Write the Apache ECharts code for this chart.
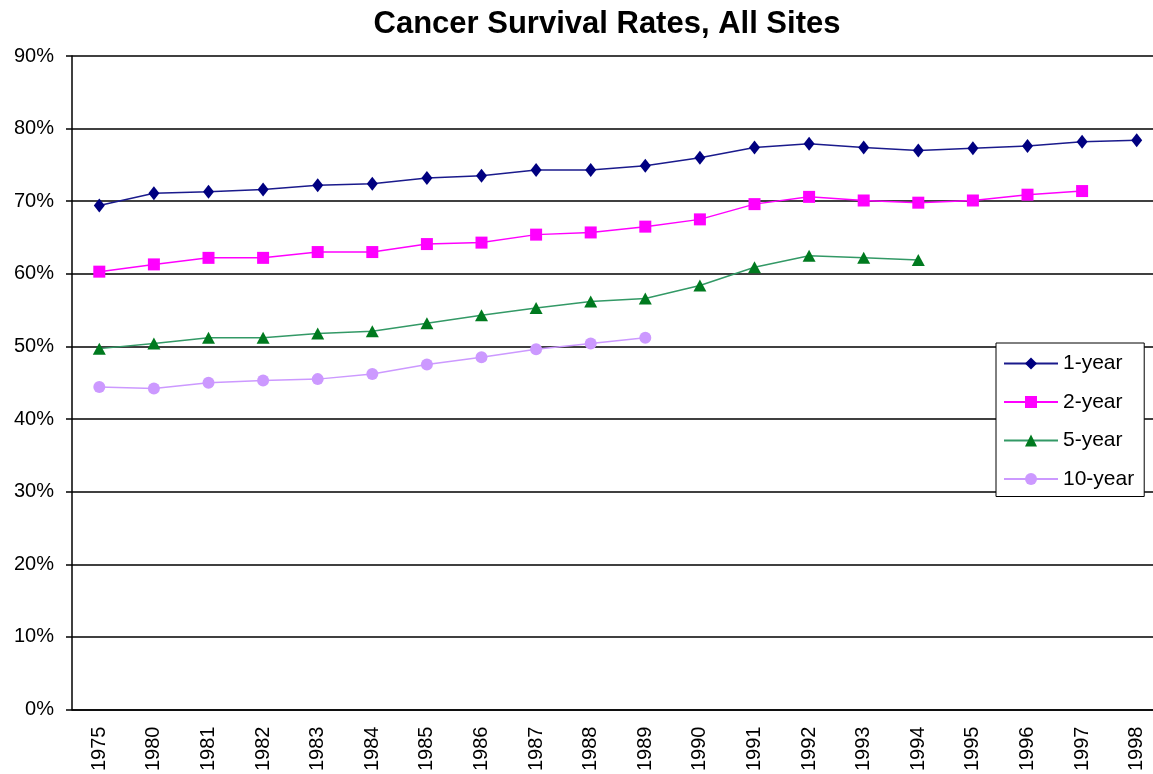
<!DOCTYPE html>
<html>
<head>
<meta charset="utf-8">
<script src="https://cdn.jsdelivr.net/npm/echarts@6/dist/echarts.min.js"></script>
<style>
  html, body { margin: 0; padding: 0; background: #fff; overflow: hidden; }
  #chart { width: 1164px; height: 774px; }
</style>
</head>
<body>
<div id="chart"></div>
<script>
var years = ['1975', '1980', '1981', '1982', '1983', '1984', '1985', '1986', '1987', '1988',
    '1989', '1990', '1991', '1992', '1993', '1994', '1995', '1996', '1997', '1998'];

// survival rates in percent
var oneYear = [69.4, 71.1, 71.3, 71.6, 72.2, 72.4, 73.2, 73.5, 74.3, 74.3,
    74.9, 76.0, 77.4, 77.9, 77.4, 77.0, 77.3, 77.6, 78.2, 78.4];
var twoYear = [60.3, 61.3, 62.2, 62.2, 63.0, 63.0, 64.1, 64.3, 65.4, 65.7,
    66.5, 67.5, 69.6, 70.6, 70.1, 69.8, 70.1, 70.9, 71.4];
var fiveYear = [49.7, 50.4, 51.2, 51.2, 51.8, 52.1, 53.2, 54.3, 55.3, 56.2,
    56.6, 58.4, 60.9, 62.5, 62.2, 61.9];
var tenYear = [44.4, 44.2, 45.0, 45.3, 45.5, 46.2, 47.5, 48.5, 49.6, 50.4, 51.2];

var font = '"Liberation Sans", Arial, sans-serif';

function lineSeries(name, data, lineColor, markColor, symbol, size) {
    return {
        name: name,
        type: 'line',
        data: data,
        symbol: symbol,
        symbolSize: size,
        showAllSymbol: true,
        lineStyle: { color: lineColor, width: 1.5 },
        itemStyle: { color: markColor, borderWidth: 0 },
        emphasis: { disabled: true },
        animation: false
    };
}

// chart div is a bit wider than the window: the last band runs off the right edge
var chart = echarts.init(document.getElementById('chart'));
chart.setOption({
    backgroundColor: '#fff',
    title: {
        text: 'Cancer Survival Rates, All Sites',
        left: 607,
        top: 9,
        padding: 0,
        textAlign: 'center',
        textStyle: { fontFamily: font, fontSize: 31, fontWeight: 'bold', color: '#000' }
    },
    legend: {
        orient: 'vertical',
        left: 996,
        top: 343,
        padding: [10, 10, 7, 7],
        itemGap: 17.5,
        itemWidth: 54,
        itemHeight: 15,
        backgroundColor: '#fff',
        borderColor: '#000',
        borderWidth: 1,
        borderRadius: 0,
        textStyle: { fontFamily: font, fontSize: 21, lineHeight: 20, color: '#000' },
        data: ['1-year', '2-year', '5-year', '10-year']
    },
    grid: { left: 72, right: 0, top: 56, bottom: 63 },
    xAxis: {
        type: 'category',
        data: years,
        boundaryGap: true,
        axisLine: { lineStyle: { color: '#000', width: 1.5 } },
        axisTick: { alignWithLabel: false, length: 6, lineStyle: { color: '#000', width: 1.5 } },
        axisLabel: { rotate: 90, margin: 17, fontFamily: font, fontSize: 20, color: '#000', interval: 0 }
    },
    yAxis: {
        type: 'value',
        min: 0,
        max: 90,
        interval: 10,
        axisLine: { show: true, lineStyle: { color: '#000', width: 1.5 } },
        axisTick: { show: true, length: 6, lineStyle: { color: '#000', width: 1.5 } },
        axisLabel: { formatter: '{value}%', margin: 18, fontFamily: font, fontSize: 20, color: '#000' },
        splitLine: { lineStyle: { color: '#000', width: 1.5 } }
    },
    series: [
        lineSeries('1-year', oneYear, '#1a1a8c', '#000080', 'diamond', [11, 14]),
        lineSeries('2-year', twoYear, '#ff00ff', '#ff00ff', 'rect', 12),
        lineSeries('5-year', fiveYear, '#339966', '#007a1f', 'triangle', [13, 12]),
        lineSeries('10-year', tenYear, '#cc99ff', '#cc99ff', 'circle', 12)
    ]
});
</script>
</body>
</html>
